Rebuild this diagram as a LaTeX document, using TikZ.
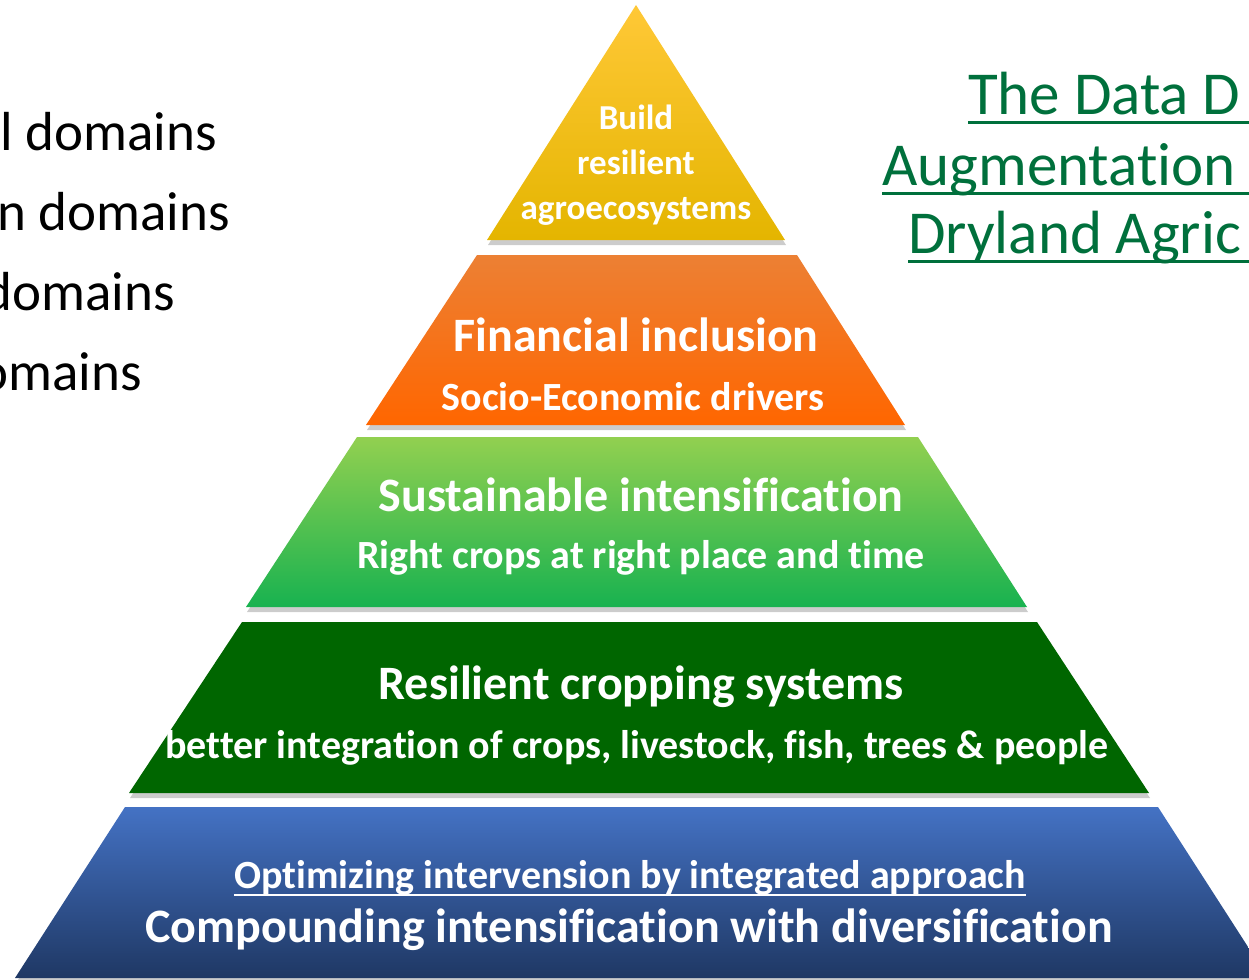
\documentclass[tikz,border=0pt]{standalone}
\usepackage{fontspec}
\setmainfont{Carlito}[Ligatures={NoCommon,NoContextual}]
\usetikzlibrary{positioning,shadows}

\definecolor{yellowtop}{RGB}{255,200,55}
\definecolor{yellowbot}{RGB}{228,181,0}
\definecolor{orangetop}{RGB}{236,128,52}
\definecolor{orangebot}{RGB}{255,102,0}
\definecolor{lgreentop}{RGB}{146,208,80}
\definecolor{lgreenbot}{RGB}{24,178,80}
\definecolor{dgreen}{RGB}{0,102,0}
\definecolor{bluetop}{RGB}{68,114,196}
\definecolor{bluebot}{RGB}{31,56,100}
\definecolor{titlegreen}{RGB}{0,112,60}

\tikzset{
    tier/.style = {
        drop shadow={shadow xshift=1pt, shadow yshift=-5pt, opacity=0.4}
    },
    headline/.style = {
        text=white,
        inner sep=0pt,
        font=\bfseries\fontsize{48}{52}\selectfont
    },
    subline/.style = {
        text=white,
        inner sep=0pt,
        font=\bfseries\fontsize{40}{44}\selectfont
    },
    apexline/.style = {
        text=white,
        inner sep=0pt,
        align=center,
        font=\bfseries\fontsize{35}{45}\selectfont
    },
    domainline/.style = {
        anchor=base east,
        inner sep=0pt,
        font=\fontsize{55}{60}\selectfont
    },
    titleline/.style = {
        anchor=base west,
        inner sep=0pt,
        text=titlegreen,
        font=\fontsize{61}{70}\selectfont
    },
}

\begin{document}
\begin{tikzpicture}[x=1pt, y=-1pt]

            \useasboundingbox (0,0) rectangle (1249,979);
            \clip (0,0) rectangle (1249,979);

            % pyramid tiers
            \path[tier, top color=yellowtop, bottom color=yellowbot] (636,5) -- (785,240) -- (487,240) -- cycle;
            \path[tier, top color=orangetop, bottom color=orangebot] (477,255) -- (797,255) -- (905,425) -- (366,425) -- cycle;
            \path[tier, top color=lgreentop, bottom color=lgreenbot] (357,437) -- (918,437) -- (1027,607) -- (246,607) -- cycle;
            \path[tier, fill=dgreen] (242,622) -- (1037,622) -- (1149,793) -- (129,793) -- cycle;
            \path[tier, top color=bluetop, bottom color=bluebot] (125,807) -- (1158,807) -- (1268,978) -- (15,978) -- cycle;

            % tier labels
            \node[apexline] (build) at (636,165) {Build\\resilient\\agroecosystems};

            \node[headline] (finance) at (636,335) {Financial inclusion};
            \node[subline] (socio) at (633,397) {Socio-Economic drivers};

            \node[headline] (sustain) at (641,495) {Sustainable intensification};
            \node[subline] (rightcrops) at (641,558) {Right crops at right place and time};

            \node[headline] (cropping) at (641,687) {Resilient cropping systems};
            \node[subline] (integration) at (637,748) {better integration of crops, livestock, fish, trees \& people};

            \node[subline] (optimizing) at (630,878) {Optimizing intervension by integrated approach};
            \draw[white, line width=2pt] ([yshift=-6pt]optimizing.base west) -- ([yshift=-6pt]optimizing.base east);
            \node[headline] (compounding) at (629,930) {Compounding intensification with diversification};

            % left list
            \node[domainline] (dom_a) at (217,150) {l domains};
            \node[domainline] (dom_b) at (230,230) {n domains};
            \node[domainline] (dom_c) at (175,310) {domains};
            \node[domainline] (dom_d) at (142,390) {omains};

            % title
            \node[titleline] (title_a) at (968,115) {The Data D};
            \node[titleline] (title_b) at (882,185) {Augmentation};
            \node[titleline] (title_c) at (908,253) {Dryland Agric};

            \draw[titlegreen, line width=3pt] ([yshift=-8pt]title_a.base west) -- ++(400,0);
            \draw[titlegreen, line width=3pt] ([yshift=-8pt]title_b.base west) -- ++(400,0);
            \draw[titlegreen, line width=3pt] ([yshift=-8pt]title_c.base west) -- ++(400,0);

        \end{tikzpicture}
\end{document}
